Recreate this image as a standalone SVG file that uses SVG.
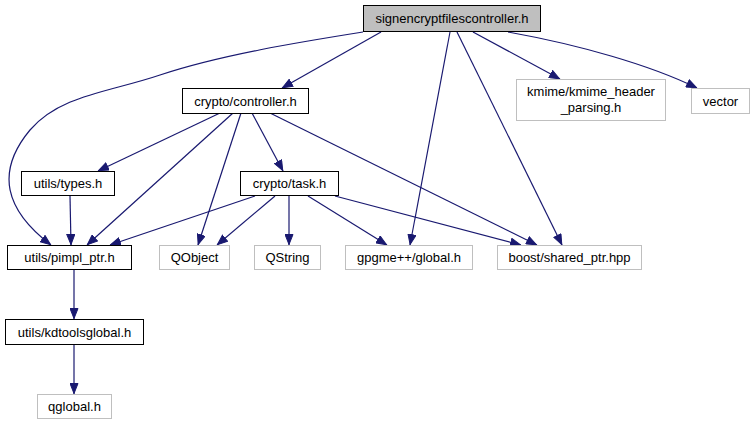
<svg xmlns="http://www.w3.org/2000/svg" width="755" height="425" viewBox="0 0 755 425">
<style>
.n rect{fill:#fff;stroke:#000;stroke-width:1}
.g rect{fill:#fff;stroke:#bfbfbf;stroke-width:1}
.m rect{fill:#bfbfbf;stroke:#000;stroke-width:1}
text{font-family:"Liberation Sans",Arial,sans-serif;font-size:13px;fill:#000;text-anchor:middle}
#edges path{fill:none;stroke:#191970;stroke-width:1.2;marker-end:url(#a)}
</style>
<defs>
<marker id="a" markerUnits="userSpaceOnUse" markerWidth="11" markerHeight="9" refX="11" refY="4.5" orient="auto" viewBox="0 0 11 9">
<path d="M0.5,0.5 L10.5,4.5 L0.5,8.5 z" fill="#191970" stroke="#191970"/>
</marker>
</defs>
<rect width="755" height="425" fill="#fff"/>
<g id="edges">
<path d="M363,32 C300,42 220,55 160,75 C110,92 60,95 30,130 C-5,172 5,210 51,245"/>
<path d="M381,32 L282,88"/>
<path d="M450,32 L410,245"/>
<path d="M457,32 L562,245"/>
<path d="M473,32 L560,79"/>
<path d="M508,32 C580,45 650,65 697,88"/>
<path d="M220,113 L98,171"/>
<path d="M233,113 L87,245"/>
<path d="M241,113 L198,245"/>
<path d="M252,113 L283,171"/>
<path d="M270,113 L537,245"/>
<path d="M255,196 L110,245"/>
<path d="M275,196 L217,245"/>
<path d="M289,196 L289,245"/>
<path d="M308,196 L387,245"/>
<path d="M335,196 L521,245"/>
<path d="M70,196 L71,245"/>
<path d="M74,270 L74,319"/>
<path d="M74,345 L74,394"/>
</g>
<g id="main" class="m"><rect x="363.5" y="5.5" width="177" height="26"/><text x="452" y="23">signencryptfilescontroller.h</text></g>
<g id="controller" class="n"><rect x="182.5" y="88.5" width="126" height="25"/><text x="245.5" y="105.5">crypto/controller.h</text></g>
<g id="kmime" class="g"><rect x="516.5" y="79.5" width="149" height="41"/><text x="591" y="96">kmime/kmime_header</text><text x="591" y="112">_parsing.h</text></g>
<g id="vector" class="g"><rect x="691.5" y="88.5" width="58" height="25"/><text x="720.5" y="105.5">vector</text></g>
<g id="types" class="n"><rect x="21.5" y="171.5" width="93" height="24"/><text x="68" y="188">utils/types.h</text></g>
<g id="task" class="n"><rect x="240.5" y="171.5" width="98" height="24"/><text x="289.5" y="188">crypto/task.h</text></g>
<g id="pimpl" class="n"><rect x="7.5" y="245.5" width="124" height="24"/><text x="69.5" y="262">utils/pimpl_ptr.h</text></g>
<g id="qobject" class="g"><rect x="159.5" y="245.5" width="70" height="24"/><text x="194.5" y="262">QObject</text></g>
<g id="qstring" class="g"><rect x="254.5" y="245.5" width="66" height="24"/><text x="287.5" y="262">QString</text></g>
<g id="gpgme" class="g"><rect x="345.5" y="245.5" width="127" height="24"/><text x="409" y="262">gpgme++/global.h</text></g>
<g id="boost" class="g"><rect x="497.5" y="245.5" width="144" height="24"/><text x="569.5" y="262">boost/shared_ptr.hpp</text></g>
<g id="kdtools" class="n"><rect x="5.5" y="319.5" width="138" height="25"/><text x="74.5" y="336.5">utils/kdtoolsglobal.h</text></g>
<g id="qglobal" class="g"><rect x="37.5" y="394.5" width="74" height="24"/><text x="74.5" y="411">qglobal.h</text></g>
</svg>
